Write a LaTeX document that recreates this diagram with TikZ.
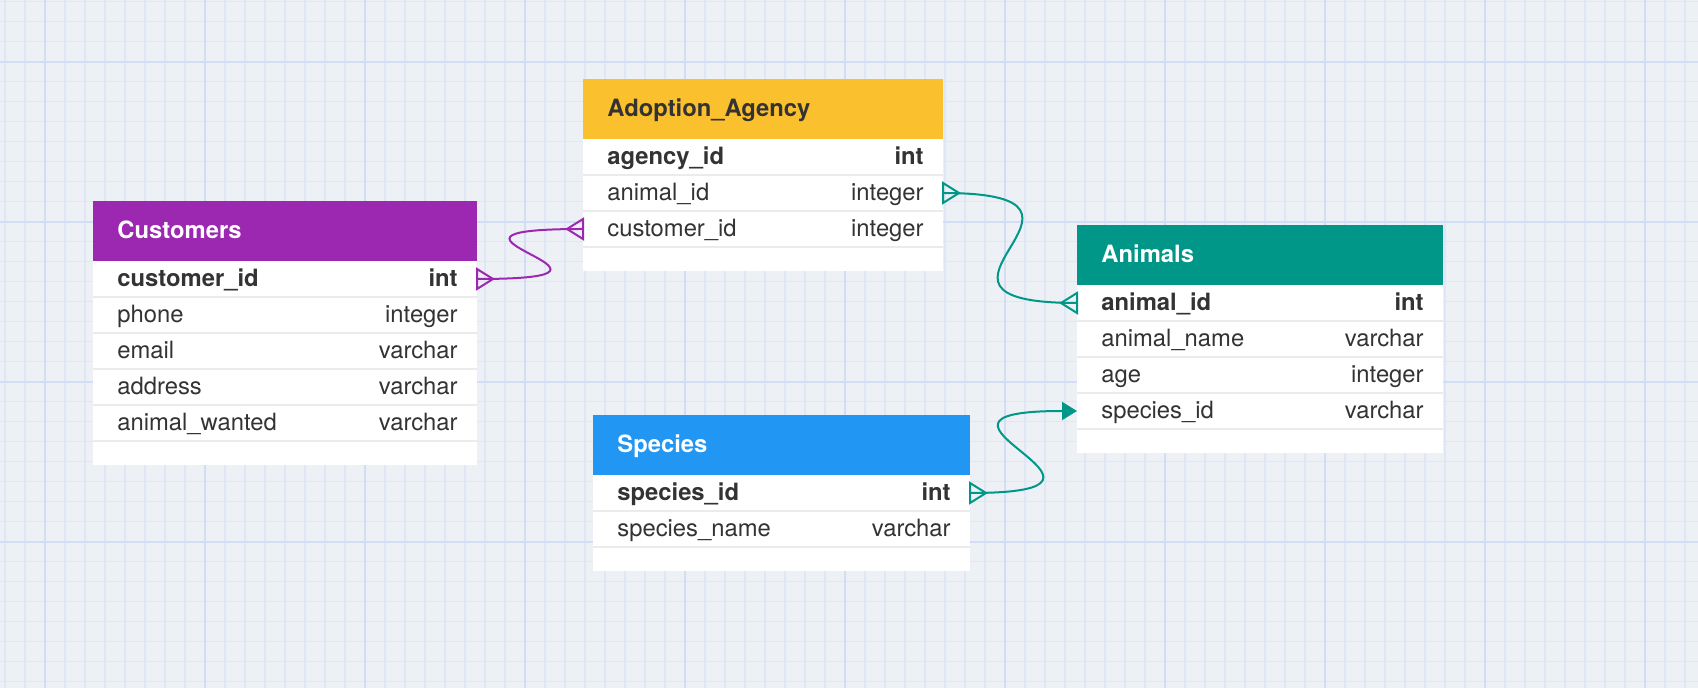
\documentclass[tikz,border=0pt]{standalone}
\usepackage{fontspec}
\setmainfont{TeX Gyre Heros}
\usetikzlibrary{arrows.meta,positioning}
\definecolor{vbg}{HTML}{EDF1F5}
\definecolor{vgridmin}{HTML}{DFE7F6}
\definecolor{vgridmaj}{HTML}{D2DDF6}
\definecolor{vink}{HTML}{333333}
\definecolor{vsep}{HTML}{EBEBEB}
\definecolor{vpurple}{HTML}{9C27B0}
\definecolor{vamber}{HTML}{FBC02D}
\definecolor{vteal}{HTML}{009688}
\definecolor{vblue}{HTML}{2196F3}
\tikzset{
  gmin/.style={draw=vgridmin,line width=0.75pt},
  gmaj/.style={draw=vgridmaj,line width=0.9pt},
  hdr/.style={anchor=north west,minimum height=30pt,inner sep=0pt,outer sep=0pt},
  row/.style={fill=white,minimum height=18pt,inner sep=0pt,outer sep=0pt},
  endrow/.style={fill=white,minimum height=12pt,inner sep=0pt,outer sep=0pt},
  ttl/.style={font=\fontsize{11.9}{14}\selectfont\bfseries,inner sep=0pt,text height=9.8pt,text depth=2pt},
  fld/.style={font=\fontsize{11.9}{14}\selectfont,text=vink,inner sep=0pt,text height=9.8pt,text depth=2pt},
  sepl/.style={draw=vsep,line width=1pt},
  rel/.style={line width=1pt},
  crow/.pic={\draw[line width=1pt] (0,5pt) -- (8pt,0) -- (0,-5pt) -- cycle;},
}
\begin{document}
\begin{tikzpicture}[x=0.5pt,y=-0.5pt]
  \useasboundingbox (0,0) rectangle (1698,688);
  \fill[vbg] (0,0) rectangle (1698,688);
  % grid
  \foreach \x in {5,25,...,1685} \draw[gmin] (\x,0) -- (\x,688);
  \foreach \y in {1.7,21.7,...,681.7} \draw[gmin] (0,\y) -- (1698,\y);
  \foreach \x in {45,205,...,1645} \draw[gmaj] (\x,0) -- (\x,688);
  \foreach \y in {61.7,221.7,...,541.7} \draw[gmaj] (0,\y) -- (1698,\y);

  % Customers
  \node[hdr,fill=vpurple,minimum width=192pt] (cust-0) at (93,201) {};
  \node[ttl,text=white,right=12pt of cust-0.west] (cust-t) {Customers};
  \foreach \f/\k [count=\i] in {\textbf{customer\_id}/\textbf{int},phone/integer,email/varchar,address/varchar,animal\_wanted/varchar}{
    \pgfmathtruncatemacro\j{\i-1}
    \node[row,minimum width=192pt,below=0pt of cust-\j] (cust-\i) {};
    \node[fld,right=12pt of cust-\i.west] (cust-f\i) {\f};
    \node[fld,left=9.5pt of cust-\i.east] (cust-k\i) {\k};
    \ifnum\i>1 \draw[sepl] (cust-\i.north west) -- (cust-\i.north east); \fi
  }
  \node[endrow,minimum width=192pt,below=0pt of cust-5] (cust-end) {};
  \draw[sepl] (cust-end.north west) -- (cust-end.north east);

  % Adoption_Agency
  \node[hdr,fill=vamber,minimum width=180pt] (agcy-0) at (583,79) {};
  \node[ttl,text=vink,right=12pt of agcy-0.west] (agcy-t) {Adoption\_Agency};
  \foreach \f/\k [count=\i] in {\textbf{agency\_id}/\textbf{int},animal\_id/integer,customer\_id/integer}{
    \pgfmathtruncatemacro\j{\i-1}
    \node[row,minimum width=180pt,below=0pt of agcy-\j] (agcy-\i) {};
    \node[fld,right=12pt of agcy-\i.west] (agcy-f\i) {\f};
    \node[fld,left=9.5pt of agcy-\i.east] (agcy-k\i) {\k};
    \ifnum\i>1 \draw[sepl] (agcy-\i.north west) -- (agcy-\i.north east); \fi
  }
  \node[endrow,minimum width=180pt,below=0pt of agcy-3] (agcy-end) {};
  \draw[sepl] (agcy-end.north west) -- (agcy-end.north east);

  % Animals
  \node[hdr,fill=vteal,minimum width=183pt] (anim-0) at (1077,225) {};
  \node[ttl,text=white,right=12pt of anim-0.west] (anim-t) {Animals};
  \foreach \f/\k [count=\i] in {\textbf{animal\_id}/\textbf{int},animal\_name/varchar,age/integer,species\_id/varchar}{
    \pgfmathtruncatemacro\j{\i-1}
    \node[row,minimum width=183pt,below=0pt of anim-\j] (anim-\i) {};
    \node[fld,right=12pt of anim-\i.west] (anim-f\i) {\f};
    \node[fld,left=9.5pt of anim-\i.east] (anim-k\i) {\k};
    \ifnum\i>1 \draw[sepl] (anim-\i.north west) -- (anim-\i.north east); \fi
  }
  \node[endrow,minimum width=183pt,below=0pt of anim-4] (anim-end) {};
  \draw[sepl] (anim-end.north west) -- (anim-end.north east);

  % Species
  \node[hdr,fill=vblue,minimum width=188.5pt] (spec-0) at (593,415) {};
  \node[ttl,text=white,right=12pt of spec-0.west] (spec-t) {Species};
  \foreach \f/\k [count=\i] in {\textbf{species\_id}/\textbf{int},species\_name/varchar}{
    \pgfmathtruncatemacro\j{\i-1}
    \node[row,minimum width=188.5pt,below=0pt of spec-\j] (spec-\i) {};
    \node[fld,right=12pt of spec-\i.west] (spec-f\i) {\f};
    \node[fld,left=9.5pt of spec-\i.east] (spec-k\i) {\k};
    \ifnum\i>1 \draw[sepl] (spec-\i.north west) -- (spec-\i.north east); \fi
  }
  \node[endrow,minimum width=188.5pt,below=0pt of spec-2] (spec-end) {};
  \draw[sepl] (spec-end.north west) -- (spec-end.north east);

  % relations
  \draw[rel,draw=vpurple] (cust-1.east) .. controls +(200,0) and +(-200,0) .. (agcy-3.west);
  \pic[vpurple] at (cust-1.east) {crow};
  \pic[vpurple,rotate=180] at (agcy-3.west) {crow};
  \draw[rel,draw=vteal] (agcy-2.east) .. controls +(200,0) and +(-200,0) .. (anim-1.west);
  \pic[vteal] at (agcy-2.east) {crow};
  \pic[vteal,rotate=180] at (anim-1.west) {crow};
  \draw[rel,draw=vteal,-{Triangle[length=7.5pt,width=9pt]}] (spec-1.east) .. controls +(200,0) and +(-200,0) .. (anim-4.west);
  \pic[vteal] at (spec-1.east) {crow};
\end{tikzpicture}
\end{document}
